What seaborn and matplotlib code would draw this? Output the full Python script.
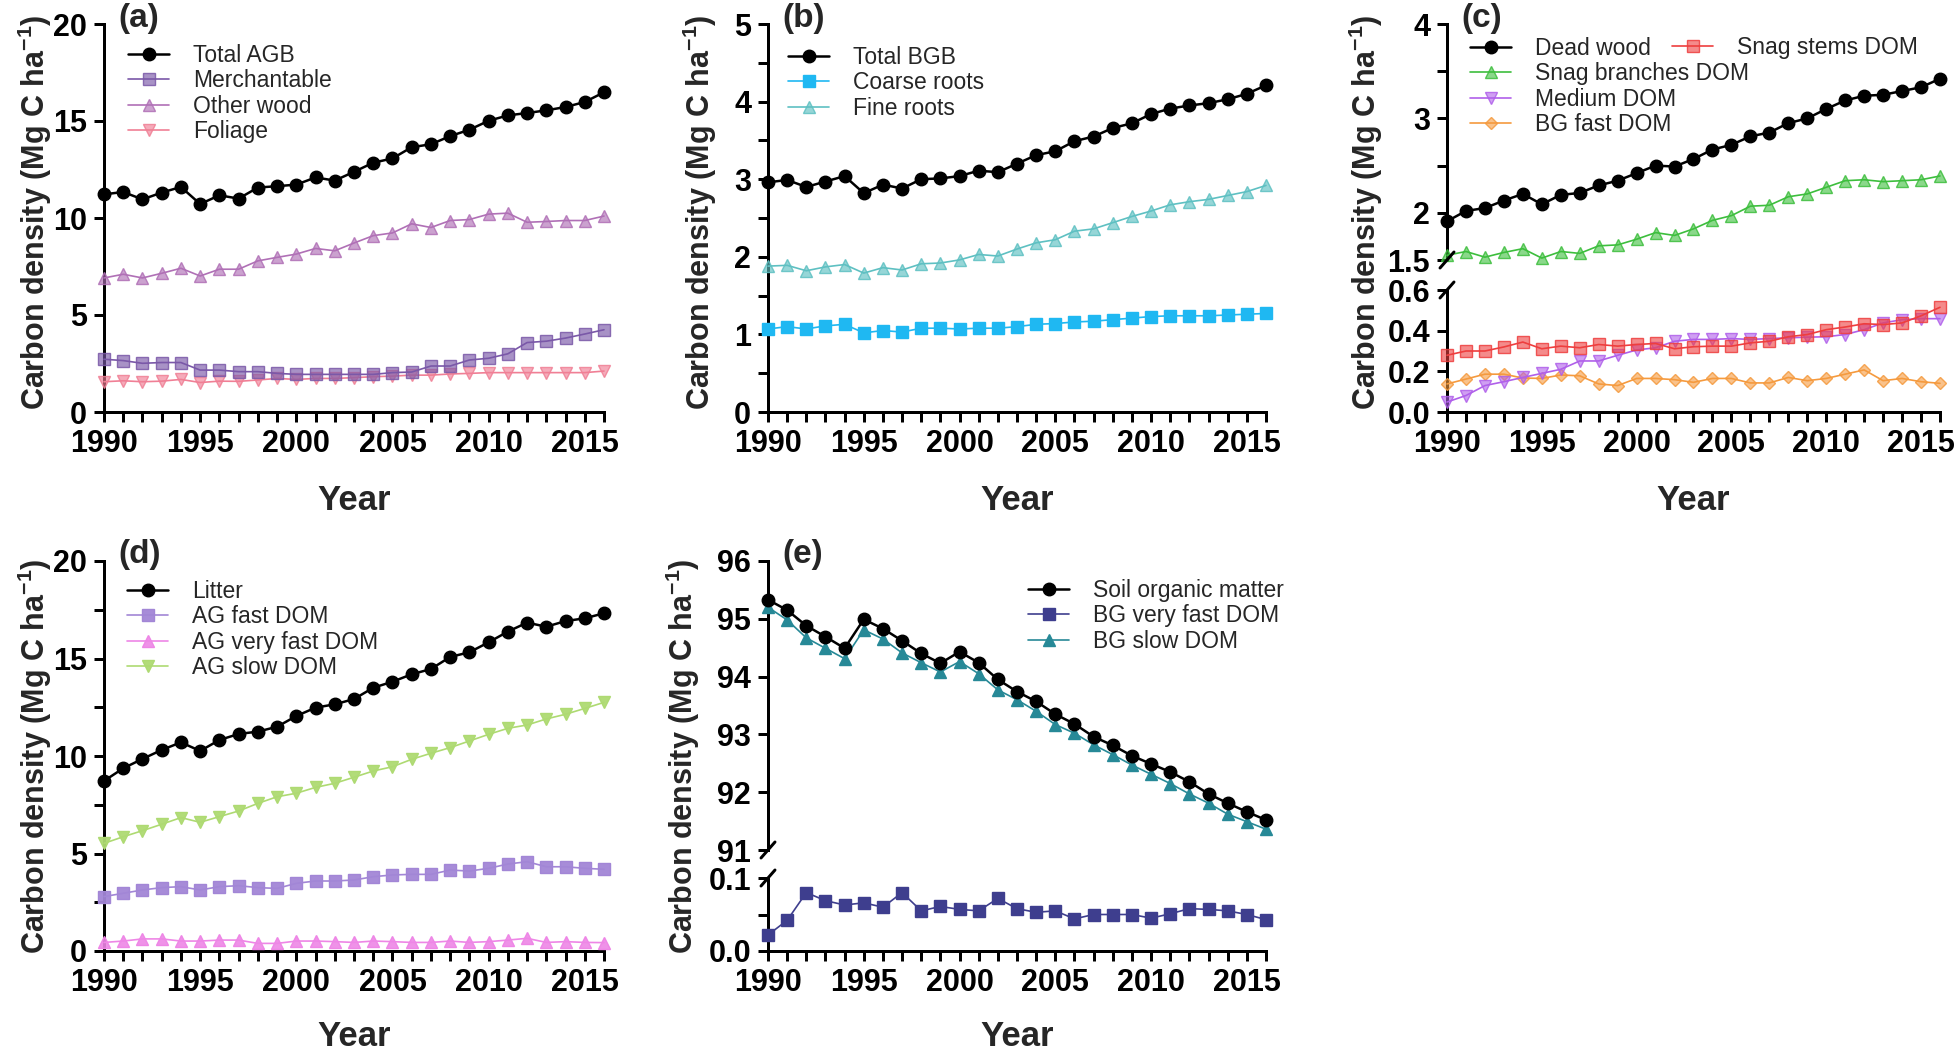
import numpy as np
import pandas as pd
import seaborn as sns
import matplotlib
matplotlib.use("Agg")
import matplotlib.pyplot as plt
from matplotlib.lines import Line2D
from matplotlib.ticker import FixedLocator, MultipleLocator, FixedFormatter

# ---------------- data ----------------
years = list(range(1990, 2017))

# (a) aboveground biomass
total_agb = [11.22, 11.34, 10.96, 11.31, 11.60, 10.72, 11.17, 11.00, 11.57, 11.64, 11.72, 12.09, 11.93, 12.38,
             12.85, 13.07, 13.65, 13.80, 14.22, 14.55, 15.01, 15.29, 15.41, 15.55, 15.72, 15.98, 16.48]
merchantable = [2.72, 2.65, 2.51, 2.55, 2.55, 2.16, 2.16, 2.08, 2.08, 1.99, 1.94, 1.94, 1.94, 1.94,
                1.94, 2.03, 2.06, 2.37, 2.37, 2.68, 2.77, 3.00, 3.58, 3.65, 3.81, 4.02, 4.24]
other_wood = [6.91, 7.10, 6.91, 7.15, 7.41, 7.01, 7.36, 7.36, 7.79, 7.97, 8.14, 8.43, 8.31, 8.71,
              9.09, 9.23, 9.70, 9.51, 9.87, 9.92, 10.20, 10.25, 9.78, 9.82, 9.87, 9.87, 10.10]
foliage = [1.56, 1.61, 1.56, 1.59, 1.68, 1.52, 1.59, 1.58, 1.65, 1.73, 1.68, 1.73, 1.73, 1.77,
           1.82, 1.85, 1.90, 1.90, 1.96, 1.99, 2.03, 2.03, 2.03, 2.03, 2.03, 2.03, 2.11]

# (b) belowground biomass
total_bgb = [2.96, 2.99, 2.90, 2.97, 3.04, 2.82, 2.93, 2.88, 3.00, 3.01, 3.04, 3.11, 3.09, 3.20,
             3.31, 3.36, 3.49, 3.55, 3.66, 3.72, 3.84, 3.91, 3.95, 3.98, 4.03, 4.10, 4.21]
coarse_roots = [1.07, 1.10, 1.07, 1.11, 1.13, 1.02, 1.05, 1.03, 1.08, 1.08, 1.07, 1.08, 1.08, 1.10,
                1.13, 1.14, 1.16, 1.17, 1.19, 1.21, 1.23, 1.24, 1.24, 1.24, 1.25, 1.26, 1.27]
fine_roots = [1.88, 1.89, 1.82, 1.87, 1.90, 1.79, 1.86, 1.83, 1.91, 1.92, 1.96, 2.03, 2.01, 2.10,
              2.18, 2.22, 2.33, 2.36, 2.44, 2.52, 2.59, 2.67, 2.71, 2.74, 2.79, 2.84, 2.92]

# (c) dead wood
dead_wood = [1.91, 2.02, 2.05, 2.13, 2.20, 2.09, 2.19, 2.21, 2.29, 2.34, 2.42, 2.50, 2.49, 2.57,
             2.67, 2.72, 2.81, 2.85, 2.95, 3.00, 3.10, 3.19, 3.24, 3.25, 3.29, 3.33, 3.42]
snag_branches = [1.55, 1.59, 1.53, 1.58, 1.62, 1.52, 1.59, 1.57, 1.65, 1.66, 1.72, 1.79, 1.76, 1.83,
                 1.92, 1.97, 2.07, 2.08, 2.17, 2.20, 2.27, 2.34, 2.35, 2.33, 2.34, 2.35, 2.39]
snag_stems = [0.279, 0.300, 0.300, 0.320, 0.344, 0.311, 0.324, 0.316, 0.332, 0.324, 0.332, 0.337, 0.311, 0.321,
              0.324, 0.324, 0.340, 0.348, 0.370, 0.381, 0.405, 0.418, 0.434, 0.430, 0.438, 0.473, 0.515]
medium_dom = [0.049, 0.081, 0.130, 0.149, 0.170, 0.190, 0.210, 0.251, 0.251, 0.279, 0.305, 0.316, 0.348, 0.357,
              0.357, 0.361, 0.357, 0.361, 0.365, 0.368, 0.370, 0.381, 0.405, 0.438, 0.454, 0.459, 0.459]
bg_fast_dom = [0.138, 0.162, 0.186, 0.186, 0.167, 0.165, 0.182, 0.178, 0.138, 0.130, 0.165, 0.165, 0.159, 0.146,
               0.165, 0.165, 0.143, 0.143, 0.170, 0.154, 0.165, 0.186, 0.207, 0.154, 0.165, 0.149, 0.141]

# (d) litter
litter = [8.72, 9.37, 9.85, 10.31, 10.70, 10.26, 10.82, 11.13, 11.25, 11.50, 12.05, 12.48, 12.65, 12.92,
          13.50, 13.81, 14.19, 14.46, 15.08, 15.32, 15.83, 16.38, 16.84, 16.63, 16.92, 17.06, 17.32]
ag_fast_dom = [2.79, 2.96, 3.13, 3.25, 3.30, 3.13, 3.30, 3.35, 3.25, 3.21, 3.47, 3.59, 3.59, 3.64,
               3.81, 3.90, 3.93, 3.93, 4.15, 4.10, 4.24, 4.46, 4.58, 4.32, 4.32, 4.24, 4.19]
ag_very_fast_dom = [0.44, 0.51, 0.62, 0.62, 0.51, 0.51, 0.56, 0.56, 0.39, 0.39, 0.51, 0.51, 0.48, 0.44,
                    0.51, 0.48, 0.44, 0.44, 0.51, 0.44, 0.48, 0.56, 0.65, 0.44, 0.48, 0.44, 0.43]
ag_slow_dom = [5.52, 5.86, 6.17, 6.50, 6.84, 6.60, 6.89, 7.18, 7.57, 7.91, 8.09, 8.39, 8.60, 8.91,
               9.23, 9.45, 9.83, 10.14, 10.43, 10.77, 11.11, 11.42, 11.59, 11.90, 12.14, 12.44, 12.75]

# (e) soil
soil_om = [95.33, 95.15, 94.88, 94.69, 94.49, 94.99, 94.83, 94.62, 94.40, 94.23, 94.43, 94.24, 93.95, 93.74,
           93.57, 93.35, 93.18, 92.96, 92.81, 92.63, 92.49, 92.35, 92.18, 91.97, 91.81, 91.66, 91.52]
bg_slow_dom = [95.20, 94.98, 94.67, 94.49, 94.31, 94.81, 94.65, 94.41, 94.24, 94.08, 94.26, 94.05, 93.77, 93.60,
               93.40, 93.17, 93.02, 92.82, 92.65, 92.47, 92.31, 92.15, 91.97, 91.81, 91.62, 91.49, 91.36]
bg_very_fast_dom = [0.022, 0.042, 0.080, 0.069, 0.063, 0.066, 0.060, 0.080, 0.055, 0.061, 0.057, 0.055, 0.072, 0.058,
                    0.053, 0.055, 0.044, 0.050, 0.050, 0.050, 0.045, 0.051, 0.058, 0.057, 0.055, 0.050, 0.043]

x_major = [1990, 1995, 2000, 2005, 2010, 2015]
ylabel_text = r"Carbon density (Mg C ha$^{\mathbf{-1}}$)"

# ---------------- style ----------------
sns.set_theme(style="ticks")
plt.rcParams['font.family'] = ['Liberation Sans', 'DejaVu Sans']
plt.rcParams['font.weight'] = 'bold'
plt.rcParams['mathtext.fontset'] = 'custom'
plt.rcParams['mathtext.rm'] = 'Liberation Sans:bold'
plt.rcParams['mathtext.bf'] = 'Liberation Sans:bold'

W, H = 1959, 1054
fig = plt.figure(figsize=(W / 100, H / 100), dpi=100)

PX = 0.72  # points per pixel at 100 dpi
SPW = 3 * PX
TICKLEN = 10 * PX
TICKFS = 22
LEGFS = 16.5


def add_ax(x0, x1, ytop, ybot):
    return fig.add_axes([x0 / W, 1 - ybot / H, (x1 - x0) / W, (ybot - ytop) / H])


def style(ax, bottom=True):
    for s in ['top', 'right']:
        ax.spines[s].set_visible(False)
    ax.spines['left'].set_linewidth(SPW)
    ax.spines['bottom'].set_linewidth(SPW)
    ax.spines['left'].set_color('black')
    ax.spines['bottom'].set_color('black')
    ax.set_xlim(1990, 2016)
    ax.xaxis.set_major_locator(FixedLocator(x_major))
    ax.xaxis.set_minor_locator(MultipleLocator(1))
    ax.tick_params(axis='both', which='both', direction='out', length=TICKLEN, width=SPW,
                   color='black', labelsize=TICKFS, labelcolor='black', pad=5)
    if not bottom:
        ax.spines['bottom'].set_visible(False)
        ax.tick_params(axis='x', which='both', bottom=False, labelbottom=False)
    ax.set_xlabel('')
    ax.set_ylabel('')
    ax.grid(False)
    ax.set_facecolor('white')


def draw(ax, y, label, color, marker, ms=8, lw=1.2, fa=0.65, ea=0.85, z=3):
    r, g, b = matplotlib.colors.to_rgb(color)
    sns.lineplot(x=years, y=y, ax=ax, color=color, marker=marker, markersize=ms, linewidth=lw,
                 markerfacecolor=(r, g, b, fa), markeredgecolor=(r, g, b, ea), markeredgewidth=1.0,
                 label=label, clip_on=False, zorder=z, legend=False)


LEGKW = dict(loc='upper left', bbox_transform=fig.transFigure, frameon=False, borderpad=0, borderaxespad=0,
             handlelength=1.8, handletextpad=1.05, labelspacing=0.1,
             prop={'size': LEGFS, 'weight': 'normal'})


def legend(ax, handles, labels, x, y):
    return ax.legend(handles, labels, bbox_to_anchor=(x / W, 1 - y / H), **LEGKW)


def slash(xp, yp):
    fig.add_artist(Line2D([(xp - 7) / W, (xp + 7) / W], [1 - (yp + 8) / H, 1 - (yp - 8) / H],
                          transform=fig.transFigure, color='black', linewidth=SPW))


def texts(xaxis0, xaxis1, ylab_y, ytop, ylab_x, year_y, tag):
    fig.text(ylab_x / W, 1 - ylab_y / H, ylabel_text, rotation=90, ha='center', va='center',
             fontsize=22, fontweight='bold')
    fig.text(((xaxis0 + xaxis1) / 2) / W, 1 - year_y / H, 'Year', ha='center', va='center',
             fontsize=25, fontweight='bold')
    fig.text((xaxis0 + 14) / W, 1 - (ytop - 6) / H, tag, ha='left', va='center', fontsize=24, fontweight='bold')


def handles_of(*axes):
    h, l = [], []
    for a in axes:
        hh, ll = a.get_legend_handles_labels()
        h += hh
        l += ll
    return h, l


COLS = [(104, 604), (768, 1266), (1447, 1940)]
TOP1, BOT1 = 24, 412
TOP2, BOT2 = 561, 951

# ---------------- (a) ----------------
ax = add_ax(COLS[0][0], COLS[0][1], TOP1, BOT1)
draw(ax, foliage, 'Foliage', '#F07F95', 'v')
draw(ax, merchantable, 'Merchantable', '#7A58A8', 's')
draw(ax, other_wood, 'Other wood', '#B070B6', '^')
draw(ax, total_agb, 'Total AGB', 'black', 'o', ms=9, lw=1.8, fa=1, ea=1, z=4)
style(ax)
ax.set_ylim(0, 20)
ax.yaxis.set_major_locator(FixedLocator([0, 5, 10, 15, 20]))
h, l = handles_of(ax)
order = ['Total AGB', 'Merchantable', 'Other wood', 'Foliage']
legend(ax, [h[l.index(o)] for o in order], order, 128, 44)
texts(COLS[0][0], COLS[0][1], 212, TOP1, 35, 500, '(a)')

# ---------------- (b) ----------------
ax = add_ax(COLS[1][0], COLS[1][1], TOP1, BOT1)
draw(ax, fine_roots, 'Fine roots', '#5EC0C2', '^')
draw(ax, coarse_roots, 'Coarse roots', '#1FB8F2', 's', fa=1, ea=1)
draw(ax, total_bgb, 'Total BGB', 'black', 'o', ms=9, lw=1.8, fa=1, ea=1, z=4)
style(ax)
ax.set_ylim(0, 5)
ax.yaxis.set_major_locator(FixedLocator([0, 1, 2, 3, 4, 5]))
ax.yaxis.set_minor_locator(FixedLocator([0.5, 1.5, 2.5, 3.5, 4.5]))
h, l = handles_of(ax)
order = ['Total BGB', 'Coarse roots', 'Fine roots']
legend(ax, [h[l.index(o)] for o in order], order, 788, 46)
texts(COLS[1][0], COLS[1][1], 212, TOP1, 700, 500, '(b)')

# ---------------- (c) broken ----------------
C_UP_BOT, C_LO_TOP = 260, 290
axu = add_ax(COLS[2][0], COLS[2][1], TOP1, C_UP_BOT)
axl = add_ax(COLS[2][0], COLS[2][1], C_LO_TOP, BOT1)
draw(axu, snag_branches, 'Snag branches DOM', '#3DBE3D', '^', fa=0.6)
draw(axu, dead_wood, 'Dead wood', 'black', 'o', ms=9, lw=1.8, fa=1, ea=1, z=4)
draw(axl, bg_fast_dom, 'BG fast DOM', '#F59A3E', 'D', ms=6.5, fa=0.6)
draw(axl, medium_dom, 'Medium DOM', '#B060EA', 'v', fa=0.6)
draw(axl, snag_stems, 'Snag stems DOM', '#EE3E3E', 's', fa=0.6)
style(axu, bottom=False)
style(axl)
axu.set_ylim(1.5, 4)
axu.yaxis.set_major_locator(FixedLocator([1.5, 2, 3, 4]))
axu.yaxis.set_major_formatter(FixedFormatter(['1.5', '2', '3', '4']))
axu.yaxis.set_minor_locator(FixedLocator([2.5, 3.5]))
axl.set_ylim(0, 0.6)
axl.yaxis.set_major_locator(FixedLocator([0.0, 0.2, 0.4, 0.6]))
axl.yaxis.set_major_formatter(FixedFormatter(['0.0', '0.2', '0.4', '0.6']))
h, l = handles_of(axu, axl)
order = ['Dead wood', 'Snag branches DOM', 'Medium DOM', 'BG fast DOM']
leg1 = legend(axu, [h[l.index(o)] for o in order], order, 1470, 37)
axu.add_artist(leg1)
legend(axu, [h[l.index('Snag stems DOM')]], ['Snag stems DOM'], 1672, 36)
slash(COLS[2][0], C_UP_BOT)
slash(COLS[2][0], C_LO_TOP)
texts(COLS[2][0], COLS[2][1], 212, TOP1, 1366, 500, '(c)')

# ---------------- (d) ----------------
ax = add_ax(COLS[0][0], COLS[0][1], TOP2, BOT2)
draw(ax, ag_very_fast_dom, 'AG very fast DOM', '#EE86E6', '^', fa=0.9, ea=1)
draw(ax, ag_fast_dom, 'AG fast DOM', '#A286D6', 's', fa=0.95, ea=1)
draw(ax, ag_slow_dom, 'AG slow DOM', '#AEDA72', 'v', fa=0.95, ea=1)
draw(ax, litter, 'Litter', 'black', 'o', ms=9, lw=1.8, fa=1, ea=1, z=4)
style(ax)
ax.set_ylim(0, 20)
ax.yaxis.set_major_locator(FixedLocator([0, 5, 10, 15, 20]))
ax.yaxis.set_minor_locator(FixedLocator([2.5, 7.5, 12.5, 17.5]))
h, l = handles_of(ax)
order = ['Litter', 'AG fast DOM', 'AG very fast DOM', 'AG slow DOM']
legend(ax, [h[l.index(o)] for o in order], order, 127, 580)
texts(COLS[0][0], COLS[0][1], 756, TOP2, 35, 1037, '(d)')

# ---------------- (e) broken ----------------
E_UP_BOT, E_LO_TOP = 850, 878
axu = add_ax(COLS[1][0], COLS[1][1], TOP2, E_UP_BOT)
axl = add_ax(COLS[1][0], COLS[1][1], E_LO_TOP, BOT2)
draw(axu, bg_slow_dom, 'BG slow DOM', '#278997', '^', fa=1, ea=1)
draw(axu, soil_om, 'Soil organic matter', 'black', 'o', ms=9, lw=1.8, fa=1, ea=1, z=4)
draw(axl, bg_very_fast_dom, 'BG very fast DOM', '#3E3E8E', 's', fa=1, ea=1)
style(axu, bottom=False)
style(axl)
axu.set_ylim(91, 96)
axu.yaxis.set_major_locator(FixedLocator([91, 92, 93, 94, 95, 96]))
axl.set_ylim(0, 0.1)
axl.yaxis.set_major_locator(FixedLocator([0.0, 0.1]))
axl.yaxis.set_major_formatter(FixedFormatter(['0.0', '0.1']))
axl.yaxis.set_minor_locator(FixedLocator([0.05]))
h, l = handles_of(axu, axl)
order = ['Soil organic matter', 'BG very fast DOM', 'BG slow DOM']
legend(axu, [h[l.index(o)] for o in order], order, 1028, 579)
slash(COLS[1][0], E_UP_BOT)
slash(COLS[1][0], E_LO_TOP)
texts(COLS[1][0], COLS[1][1], 756, TOP2, 683, 1037, '(e)')

fig.savefig('out.png', dpi=100, facecolor='white')
